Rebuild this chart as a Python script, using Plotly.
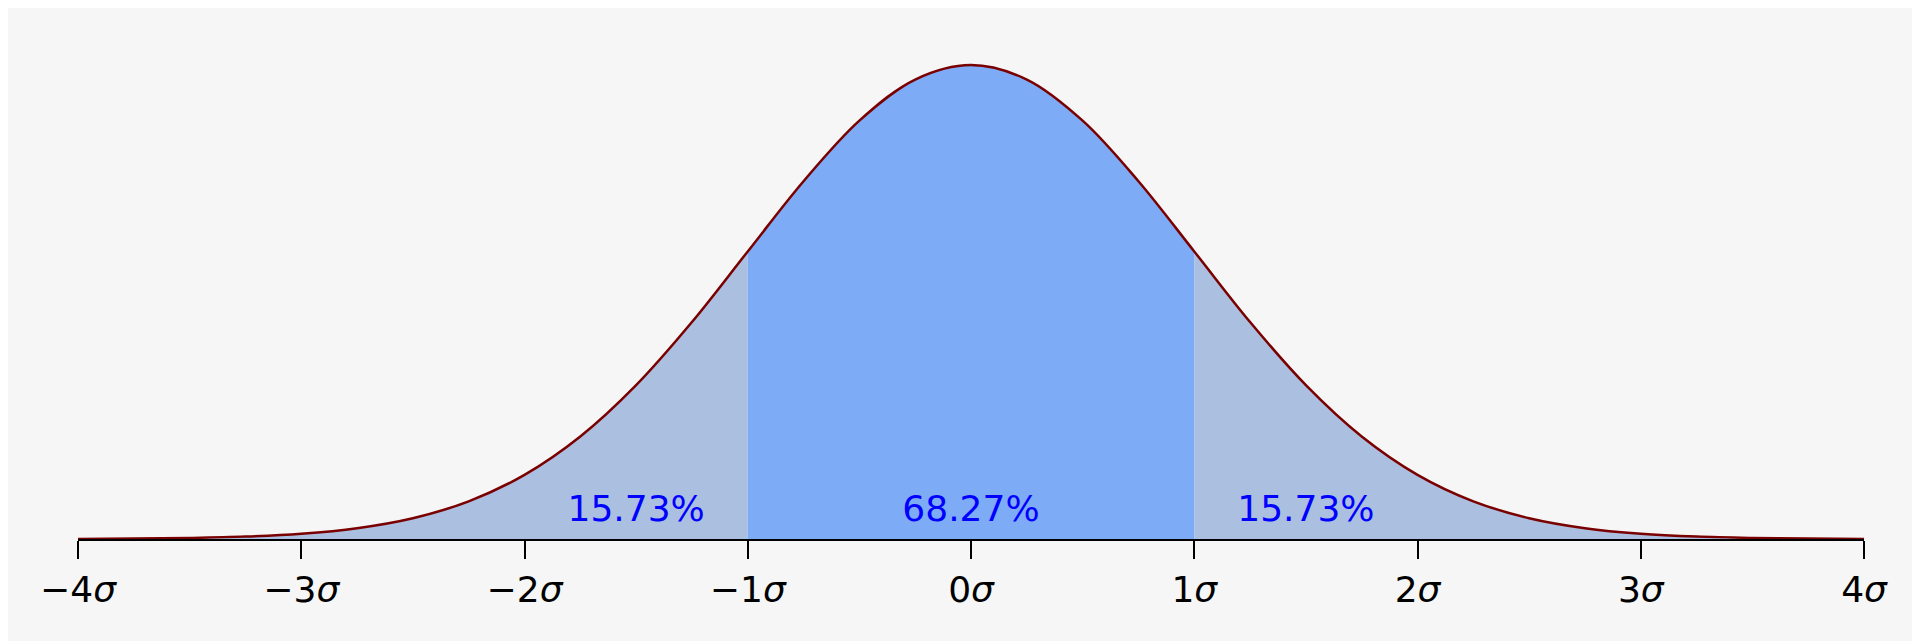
import plotly.graph_objects as go

# curve values (density at x in sigma units)
xs = [-4, -3.75, -3.5, -3.25, -3, -2.75, -2.5, -2.25, -2, -1.75, -1.5, -1.25, -1,
      -0.75, -0.5, -0.25, 0, 0.25, 0.5, 0.75, 1, 1.25, 1.5, 1.75, 2, 2.25, 2.5,
      2.75, 3, 3.25, 3.5, 3.75, 4]
ys = [0.0001, 0.0004, 0.0009, 0.0020, 0.0044, 0.0091, 0.0175, 0.0317, 0.0540,
      0.0863, 0.1295, 0.1826, 0.2420, 0.3011, 0.3521, 0.3867, 0.3989, 0.3867,
      0.3521, 0.3011, 0.2420, 0.1826, 0.1295, 0.0863, 0.0540, 0.0317, 0.0175,
      0.0091, 0.0044, 0.0020, 0.0009, 0.0004, 0.0001]
tick_vals = [-4, -3, -2, -1, 0, 1, 2, 3, 4]
tick_text = ["−4<i>σ</i>", "−3<i>σ</i>", "−2<i>σ</i>", "−1<i>σ</i>", "0<i>σ</i>",
             "1<i>σ</i>", "2<i>σ</i>", "3<i>σ</i>", "4<i>σ</i>"]
area_labels = ["15.73%", "68.27%", "15.73%"]
label_x = [-1.5, 0, 1.5]

def part(lo, hi):
    px = [x for x in xs if lo <= x <= hi]
    py = [y for x, y in zip(xs, ys) if lo <= x <= hi]
    return px, py

fig = go.Figure()
for (lo, hi), col in [((-4, -1), "#abbfe1"), ((-1, 1), "#7eabf5"), ((1, 4), "#abbfe1")]:
    px, py = part(lo, hi)
    fig.add_trace(go.Scatter(x=px, y=py, mode="lines", line=dict(width=0, shape="spline"),
                             fill="tozeroy", fillcolor=col, hoverinfo="skip"))
fig.add_trace(go.Scatter(x=xs, y=ys, mode="lines",
                         line=dict(color="#7a0000", width=2.5, shape="spline")))
fig.add_trace(go.Scatter(x=label_x, y=[0.0225] * 3, mode="text", text=area_labels,
                         textfont=dict(size=36, color="#0000ff", family="DejaVu Sans")))

fig.update_layout(
    width=1920, height=641, showlegend=False,
    paper_bgcolor="#f5f6f5", plot_bgcolor="#f5f6f5",
    margin=dict(l=70, r=64, t=0, b=110),
    font=dict(family="DejaVu Sans", size=36, color="black"),
    xaxis=dict(range=[-4, 4], tickvals=tick_vals, ticktext=tick_text, showgrid=False,
               zeroline=False, showline=True, linecolor="black", linewidth=2,
               ticks="outside", ticklen=18, tickwidth=2, tickcolor="black"),
    yaxis=dict(range=[0, 0.4469], visible=False, showgrid=False),
)
fig.write_html("out.html")
